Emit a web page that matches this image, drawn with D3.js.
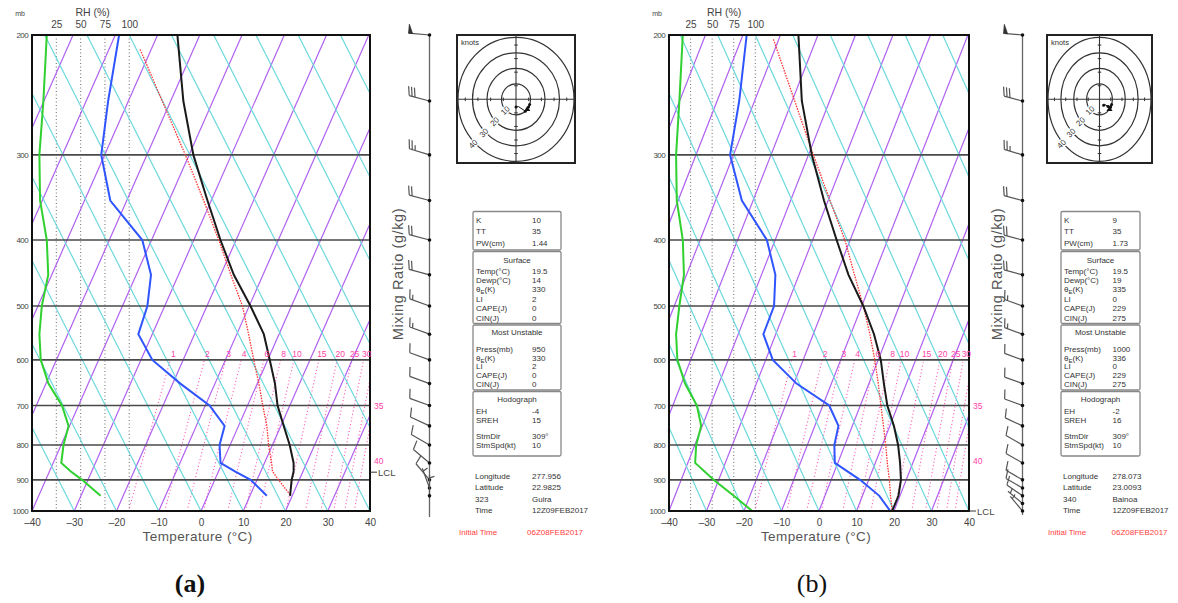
<!DOCTYPE html>
<html>
<head>
<meta charset="utf-8">
<script src="https://cdn.jsdelivr.net/npm/d3@7/dist/d3.min.js"></script>
<style>
  body { margin: 0; background: #fff; }
  svg { display: block; }
</style>
</head>
<body>
<div id="chart-area"></div>
<script>
// axes / reference lines
var pressTicks = [200, 300, 400, 500, 600, 700, 800, 900, 1000];
var tempTicks = [-40, -30, -20, -10, 0, 10, 20, 30, 40];
var rhTicks = [25, 50, 75, 100];
var mixRatios = [1, 2, 3, 4, 6, 8, 10, 15, 20, 25, 30, 35, 40];
var mixEdge = [35, 40];
var mixEdgePress = [700, 845];
var hodoRings = [10, 20, 30, 40];

// (a) Guira
var levelsA = [200, 250, 300, 350, 400, 450, 500, 550, 600, 650, 700, 750, 800, 850, 875, 900, 950];
var tempA = [-55.3, -47.0, -39.0, -30.9, -23.7, -16.9, -9.7, -3.6, 0.5, 4.2, 7.1, 10.7, 14.1, 16.9, 17.8, 18.2, 19.5];
var dewA = [-69.1, -64.8, -60.8, -53.9, -42.2, -36.5, -34.1, -33.3, -27.3, -18.2, -9.0, -3.3, -2.5, -0.4, 4.0, 8.5, 14.0];
var rhA = [15.2, 11.7, 7.6, 8.3, 15.2, 16.7, 10.1, 7.6, 9.0, 16.9, 30.8, 37.6, 32.4, 30.1, 40.0, 51.5, 70.5];
var parcelLevelsA = [210, 300, 350, 400, 450, 500, 550, 600, 650, 700, 750, 800, 850, 875, 900, 950];
var parcelA = [-62.6, -40.9, -31.8, -24.1, -17.6, -11.6, -7.2, -3.3, 0.4, 3.6, 6.7, 9.1, 11.7, 12.8, 15.1, 19.7];
var windLevelsA = [200, 250, 300, 350, 400, 450, 500, 550, 600, 650, 700, 750, 800, 850, 900, 925, 950];
var windDirA = [275, 285, 287, 285, 285, 285, 290, 290, 290, 290, 290, 295, 300, 310, 320, 340, 360];
var windSpdA = [50, 30, 25, 20, 20, 20, 15, 15, 10, 10, 10, 10, 10, 10, 10, 5, 5];
var lclA = 877;

// (b) Bainoa
var levelsB = [200, 250, 300, 350, 400, 450, 500, 550, 600, 650, 700, 750, 800, 850, 900, 950, 1000];
var tempB = [-55.2, -47.4, -39.1, -31.1, -23.6, -16.8, -9.6, -3.8, 0.7, 4.0, 7.2, 11.1, 14.2, 16.6, 18.6, 19.6, 19.5];
var dewB = [-69.0, -64.1, -60.9, -53.0, -42.2, -36.3, -33.4, -33.3, -28.1, -19.3, -8.3, -3.7, -2.8, -0.8, 7.7, 14.5, 19.0];
var rhB = [16, 12, 8.2, 9, 16, 17.3, 12, 8.2, 9.7, 18.6, 32.3, 37.3, 31.5, 30.3, 51.7, 75, 96.4];
var parcelLevelsB = [203, 250, 300, 350, 400, 450, 500, 550, 600, 650, 700, 750, 800, 850, 900, 950, 1000];
var parcelB = [-61.4, -49.3, -38.7, -29.5, -21.4, -15.2, -9.6, -4.9, -0.9, 2.5, 5.5, 8.3, 10.9, 13.2, 15.5, 17.5, 19.5];
var windLevelsB = [200, 250, 300, 350, 400, 450, 500, 550, 600, 650, 700, 750, 800, 850, 900, 925, 950, 975, 1000];
var windDirB = [275, 285, 287, 285, 285, 285, 290, 290, 290, 290, 290, 295, 300, 300, 300, 300, 305, 310, 320];
var windSpdB = [50, 30, 25, 20, 20, 20, 15, 15, 10, 10, 10, 10, 10, 10, 10, 8, 8, 5, 5];
var lclB = 1000;

// text tables
var indexLabels = ["K", "TT", "PW(cm)"];
var surfLabels = ["Temp(°C)", "Dewp(°C)", "θE(K)", "LI", "CAPE(J)", "CIN(J)"];
var muLabels = ["Press(mb)", "θE(K)", "LI", "CAPE(J)", "CIN(J)"];
var hodoLabels = ["EH", "SREH", "StmDir", "StmSpd(kt)"];
var indexA = ["10", "35", "1.44"];
var surfA = ["19.5", "14", "330", "2", "0", "0"];
var muA = ["950", "330", "2", "0", "0"];
var hodoA = ["-4", "15", "309°", "10"];
var stationA = [["Longitude", "277.956"], ["Latitude", "22.9825"], ["323", "Guira"], ["Time", "12Z09FEB2017"]];
var indexB = ["9", "35", "1.73"];
var surfB = ["19.5", "19", "335", "0", "229", "275"];
var muB = ["1000", "336", "0", "229", "275"];
var hodoB = ["-2", "16", "309°", "10"];
var stationB = [["Longitude", "278.073"], ["Latitude", "23.0093"], ["340", "Bainoa"], ["Time", "12Z09FEB2017"]];
var initTime = "06Z08FEB2017";
var stormDir = 309, stormSpd = 10;

var SKEW = 30.89;      // isotherm lean, degC per ln(p)
var DRY_LEAN = 57;     // cyan guide lean over the full height, degC
var TOP = 35, BOT = 511;
var FONT = "'Liberation Sans', Arial, sans-serif";

var svg = d3.select("#chart-area").append("svg")
  .attr("width", 1178).attr("height", 603)
  .style("background", "#fff");

function zip(ps, vs) { return ps.map((p, i) => [p, vs[i]]); }

function mixT(w, p) {
  var e = w * p / (622 + w);
  var l = Math.log(e / 6.112);
  return 243.5 * l / (17.67 - l);
}

function drawSkew(cfg) {
  var x = d3.scaleLinear().domain([-40, 40]).range([cfg.left, cfg.left + cfg.width]);
  var y = d3.scaleLog().domain([200, 1000]).range([TOP, BOT]);
  var rh = d3.scaleLinear().domain([0, 100]).range([cfg.left, cfg.left + cfg.width * 0.2877]);
  var sx = (t, p) => x(t + SKEW * Math.log(1000 / p));
  var line = d3.line().x(d => sx(d[1], d[0])).y(d => y(d[0]));
  var skewLine = d3.line().x(d => x(d[1])).y(d => y(d[0]));

  svg.append("clipPath").attr("id", "clip" + cfg.id)
    .append("rect").attr("x", cfg.left).attr("y", TOP)
    .attr("width", cfg.width).attr("height", BOT - TOP);
  var g = svg.append("g").attr("clip-path", "url(#clip" + cfg.id + ")");

  // RH guide lines
  g.selectAll(".rhl").data(rhTicks).enter().append("line")
    .attr("x1", d => rh(d)).attr("x2", d => rh(d))
    .attr("y1", TOP).attr("y2", BOT)
    .attr("stroke", "#777").attr("stroke-width", 1.1).attr("stroke-dasharray", "1,2.5");

  // mixing ratio lines
  var mixP = d3.range(1000, 595, -10);
  g.selectAll(".mix").data(mixRatios).enter().append("path")
    .attr("d", w => line(mixP.map(p => [p, mixT(w, p)])))
    .attr("fill", "none").attr("stroke", "#ff4fb0").attr("stroke-width", 1.1)
    .attr("stroke-dasharray", "1,2.5");

  // isotherms
  g.selectAll(".iso").data(d3.range(-180, 50, 10)).enter().append("path")
    .attr("d", t => line([[1000, t], [200, t]]))
    .attr("fill", "none").attr("stroke", "#b060f0").attr("stroke-width", 1.2);

  // adiabat guides (straight in this plot)
  g.selectAll(".dry").data(d3.range(-40, 110, 10)).enter().append("path")
    .attr("d", t => skewLine([[1000, t], [200, t - DRY_LEAN]]))
    .attr("fill", "none").attr("stroke", "#6cd8dc").attr("stroke-width", 1.2);

  // isobars
  g.selectAll(".isobar").data(pressTicks.slice(1, -1)).enter().append("line")
    .attr("x1", cfg.left).attr("x2", cfg.left + cfg.width)
    .attr("y1", d => y(d)).attr("y2", d => y(d))
    .attr("stroke", "#4a4a4a").attr("stroke-width", 1.6);

  // profiles
  g.append("path").attr("d", line(zip(cfg.parcelLevels, cfg.parcel)))
    .attr("fill", "none").attr("stroke", "#ff3030").attr("stroke-width", 1.3)
    .attr("stroke-dasharray", "1.5,1.2");
  g.append("path").attr("d", line(zip(cfg.levels, cfg.dew)))
    .attr("fill", "none").attr("stroke", "#2f55ff").attr("stroke-width", 2);
  g.append("path").attr("d", line(zip(cfg.levels, cfg.temp)))
    .attr("fill", "none").attr("stroke", "#1a1a1a").attr("stroke-width", 2);
  g.append("path")
    .attr("d", d3.line().x(d => rh(d[1])).y(d => y(d[0]))(zip(cfg.levels, cfg.rh)))
    .attr("fill", "none").attr("stroke", "#2fd02f").attr("stroke-width", 2);

  // frame
  svg.append("rect").attr("x", cfg.left).attr("y", TOP)
    .attr("width", cfg.width).attr("height", BOT - TOP)
    .attr("fill", "none").attr("stroke", "#111").attr("stroke-width", 2);

  // mixing ratio labels
  svg.selectAll(".mixlab" + cfg.id).data(mixRatios.filter(w => w <= 30)).enter().append("text")
    .attr("x", w => Math.min(sx(mixT(w, 600), 600) + 3, cfg.left + cfg.width + 1))
    .attr("y", y(600) - 3)
    .attr("text-anchor", "middle").attr("font-family", FONT).attr("font-size", 8.5)
    .attr("fill", "#ff3fa8").text(d => d);
  svg.selectAll(".mixedge" + cfg.id).data(mixEdge).enter().append("text")
    .attr("x", cfg.left + cfg.width + 4)
    .attr("y", (w, i) => y(mixEdgePress[i]) + 3)
    .attr("font-family", FONT).attr("font-size", 8.5)
    .attr("fill", "#ff3fa8").text(d => d);

  // axes
  var axB = svg.append("g").attr("transform", "translate(0," + (BOT + 12) + ")")
    .call(d3.axisBottom(x).tickValues(tempTicks).tickSize(0).tickFormat(d => d < 0 ? "–" + (-d) : d));
  var axL = svg.append("g").attr("transform", "translate(" + (cfg.left - 1) + ",0)")
    .call(d3.axisLeft(y).tickValues(pressTicks).tickSize(0).tickFormat(d3.format("d")));
  var axT = svg.append("g").attr("transform", "translate(0," + (TOP - 4) + ")")
    .call(d3.axisTop(rh).tickValues(rhTicks).tickSize(0));
  [axB, axL, axT].forEach(a => {
    a.select(".domain").remove();
    a.selectAll("text").attr("font-family", FONT).attr("fill", "#444");
  });
  axB.selectAll("text").attr("font-size", 10).attr("dy", 0);
  axL.selectAll("text").attr("font-size", 8).attr("dx", 0).attr("dy", "0.32em")
    .attr("letter-spacing", -0.6);
  axT.selectAll("text").attr("font-size", 10).attr("dy", 0);

  svg.append("text").attr("x", cfg.left + cfg.width * 0.49).attr("y", BOT + 30)
    .attr("text-anchor", "middle").attr("font-family", FONT).attr("font-size", 13.5)
    .attr("letter-spacing", 0.4).attr("fill", "#555").text("Temperature (°C)");
  svg.append("text").attr("x", rh(50) + 12).attr("y", 16)
    .attr("text-anchor", "middle").attr("font-family", FONT).attr("font-size", 10.5)
    .attr("fill", "#444").text("RH (%)");
  svg.append("text").attr("x", cfg.left - 12).attr("y", 16)
    .attr("text-anchor", "middle").attr("font-family", FONT).attr("font-size", 7)
    .attr("fill", "#444").text("mb");

  // LCL
  svg.append("line").attr("x1", cfg.left + cfg.width).attr("x2", cfg.left + cfg.width + 7)
    .attr("y1", y(cfg.lcl)).attr("y2", y(cfg.lcl)).attr("stroke", "#333").attr("stroke-width", 1);
  svg.append("text").attr("x", cfg.left + cfg.width + 8).attr("y", y(cfg.lcl) + 3.5)
    .attr("font-family", FONT).attr("font-size", 9.5).attr("fill", "#444").text("LCL");

  // mixing ratio axis title
  svg.append("text")
    .attr("transform", "translate(" + (cfg.left + cfg.width + 33) + ",274) rotate(-90)")
    .attr("text-anchor", "middle").attr("font-family", FONT).attr("font-size", 14.5)
    .attr("letter-spacing", 0.6).attr("fill", "#555").text("Mixing Ratio (g/kg)");

  return y;
}

function barb(g, x0, y0, dir, spd, L) {
  var a = dir * Math.PI / 180;
  var dx = Math.sin(a), dy = -Math.cos(a);
  var px = -dy, py = dx;
  var tx = x0 + dx * L, ty = y0 + dy * L;
  var path = "M" + x0 + "," + y0 + "L" + tx + "," + ty;
  var fl = 9, pos = 0, s = Math.round(spd / 5) * 5;
  var flags = Math.floor(s / 50); s -= flags * 50;
  var full = Math.floor(s / 10); s -= full * 10;
  var half = s >= 5;
  var tris = "";
  for (var i = 0; i < flags; i++) {
    var ax = tx - dx * pos, ay = ty - dy * pos;
    var bx = tx - dx * (pos + 4), by = ty - dy * (pos + 4);
    tris += "M" + ax + "," + ay + "L" + (ax + px * fl) + "," + (ay + py * fl) + "L" + bx + "," + by + "Z";
    pos += 5;
  }
  for (var j = 0; j < full; j++) {
    var fx = tx - dx * pos, fy = ty - dy * pos;
    path += "M" + fx + "," + fy + "L" + (fx + px * fl + dx * 3) + "," + (fy + py * fl + dy * 3);
    pos += 3;
  }
  if (half) {
    if (full === 0 && flags === 0) pos += 3;
    var hx = tx - dx * pos, hy = ty - dy * pos;
    path += "M" + hx + "," + hy + "L" + (hx + px * fl * 0.55 + dx * 1.5) + "," + (hy + py * fl * 0.55 + dy * 1.5);
  }
  g.append("path").attr("d", path).attr("fill", "none").attr("stroke", "#555").attr("stroke-width", 1.2);
  if (tris) g.append("path").attr("d", tris).attr("fill", "#333").attr("stroke", "#333").attr("stroke-width", 0.8);
}

function drawWinds(y, cx, yEnd, L, levels, dirs, spds) {
  var g = svg.append("g");
  g.append("line").attr("x1", cx).attr("x2", cx).attr("y1", TOP).attr("y2", yEnd)
    .attr("stroke", "#666").attr("stroke-width", 1.3);
  levels.forEach((p, i) => {
    barb(g, cx, y(p), dirs[i], spds[i], L);
    g.append("circle").attr("cx", cx).attr("cy", y(p)).attr("r", 1.8).attr("fill", "#111");
  });
}

function drawHodo(left, width, levels, dirs, spds) {
  var top = 35, height = 128;
  var cx = left + width / 2, cy = 99.3;
  var kx = d3.scaleLinear().domain([-40, 40]).range([cx - width / 2 + 1, cx + width / 2 - 1]);
  var ky = d3.scaleLinear().domain([-40, 40]).range([cy + 62, cy - 62]);
  var g = svg.append("g");
  g.append("rect").attr("x", left).attr("y", top).attr("width", width).attr("height", height)
    .attr("fill", "none").attr("stroke", "#222").attr("stroke-width", 2);
  g.selectAll("ellipse").data(hodoRings).enter().append("ellipse")
    .attr("cx", cx).attr("cy", cy)
    .attr("rx", r => kx(r) - cx).attr("ry", r => cy - ky(r))
    .attr("fill", "none").attr("stroke", "#333").attr("stroke-width", 1.2);
  g.append("line").attr("x1", left).attr("x2", left + width).attr("y1", cy).attr("y2", cy)
    .attr("stroke", "#333").attr("stroke-width", 1.1);
  g.append("line").attr("x1", cx).attr("x2", cx).attr("y1", top).attr("y2", top + height)
    .attr("stroke", "#333").attr("stroke-width", 1.1);
  var tk = d3.range(-35, 40, 8.75).filter(v => Math.abs(v) > 1);
  g.selectAll(".tx").data(tk).enter().append("line")
    .attr("x1", v => kx(v)).attr("x2", v => kx(v)).attr("y1", cy - 1.8).attr("y2", cy + 1.8)
    .attr("stroke", "#333");
  g.selectAll(".ty").data(tk).enter().append("line")
    .attr("y1", v => ky(v)).attr("y2", v => ky(v)).attr("x1", cx - 1.8).attr("x2", cx + 1.8)
    .attr("stroke", "#333");
  g.selectAll(".rl").data(hodoRings).enter().append("text")
    .attr("transform", r => "translate(" + (cx - (kx(r) - cx) * 0.74) + "," + (cy + (cy - ky(r)) * 0.72) + ") rotate(-45)")
    .attr("text-anchor", "middle").attr("dy", "0.35em")
    .attr("font-family", FONT).attr("font-size", 8).attr("fill", "#333")
    .attr("stroke", "#fff").attr("stroke-width", 2.5).attr("paint-order", "stroke")
    .text(d => d);
  g.append("text").attr("x", left + 4).attr("y", top + 10)
    .attr("font-family", FONT).attr("font-size", 7.5).attr("fill", "#333").text("knots");
  // trace of the low-level winds
  var pts = levels.map((p, i) => {
    var a = dirs[i] * Math.PI / 180;
    return { p: p, u: -spds[i] * Math.sin(a), v: -spds[i] * Math.cos(a) };
  }).filter(d => d.p >= 700);
  g.append("path").attr("d", d3.line().x(d => kx(d.u)).y(d => ky(d.v))(pts))
    .attr("fill", "none").attr("stroke", "#111").attr("stroke-width", 1);
  g.selectAll(".hp").data(pts.filter((d, i) => i % 2 === 0)).enter().append("circle")
    .attr("cx", d => kx(d.u)).attr("cy", d => ky(d.v)).attr("r", 1.5).attr("fill", "#111");
  var sa = stormDir * Math.PI / 180;
  var smx = kx(-stormSpd * Math.sin(sa)), smy = ky(-stormSpd * Math.cos(sa));
  g.append("path").attr("d", "M" + smx + "," + (smy - 3) + "L" + (smx + 3) + "," + (smy + 2) + "L" + (smx - 3) + "," + (smy + 2) + "Z")
    .attr("fill", "#111");
}

function labelText(sel, s) {
  if (s.indexOf("θE") === 0) {
    sel.text("θ");
    sel.append("tspan").attr("font-size", 6).attr("dy", 2).text("E");
    sel.append("tspan").attr("dy", -2).text(s.slice(2));
  } else sel.text(s);
}

function drawInfo(left, right, valX, idx, surf, mu, hodo, station, initLeft, initVal) {
  var g = svg.append("g").attr("font-family", FONT).attr("font-size", 8).attr("fill", "#333");
  var boxes = [[211.5, 250], [251.5, 323.5], [325, 390], [391.5, 456]];
  g.selectAll("rect").data(boxes).enter().append("rect")
    .attr("x", left).attr("y", d => d[0]).attr("width", right - left).attr("height", d => d[1] - d[0])
    .attr("rx", 1.5).attr("fill", "none").attr("stroke", "#888").attr("stroke-width", 1.3);
  function rows(labels, vals, y0, dy) {
    labels.forEach((l, i) => {
      labelText(g.append("text").attr("x", left + 3).attr("y", y0 + i * dy), l);
      g.append("text").attr("x", valX).attr("y", y0 + i * dy).text(vals[i]);
    });
  }
  rows(indexLabels, idx, 223, 11.3);
  [["Surface", 263], ["Most Unstable", 334.5], ["Hodograph", 402]].forEach(t => {
    g.append("text").attr("x", (left + right) / 2).attr("y", t[1]).attr("text-anchor", "middle").text(t[0]);
  });
  rows(surfLabels, surf, 273.5, 9.4);
  rows(muLabels, mu, 352, 8.7);
  rows(hodoLabels.slice(0, 2), hodo.slice(0, 2), 414, 9);
  rows(hodoLabels.slice(2), hodo.slice(2), 439, 9);
  station.forEach((r, i) => {
    g.append("text").attr("x", left + 2).attr("y", 479 + i * 11.3).text(r[0]);
    g.append("text").attr("x", valX).attr("y", 479 + i * 11.3).text(r[1]);
  });
  g.append("text").attr("x", initLeft).attr("y", 535).attr("fill", "#ff4040").text("Initial Time");
  g.append("text").attr("x", initVal).attr("y", 535).attr("fill", "#ff4040").text(initTime);
}

var yA = drawSkew({ id: "a", left: 32, width: 338, levels: levelsA, temp: tempA, dew: dewA, rh: rhA,
  parcelLevels: parcelLevelsA, parcel: parcelA, lcl: lclA });
var yB = drawSkew({ id: "b", left: 669, width: 300, levels: levelsB, temp: tempB, dew: dewB, rh: rhB,
  parcelLevels: parcelLevelsB, parcel: parcelB, lcl: lclB });

drawWinds(yA, 429.5, 517, 21, windLevelsA, windDirA, windSpdA);
drawWinds(yB, 1022.5, 515, 19, windLevelsB, windDirB, windSpdB);

drawHodo(457, 118, windLevelsA, windDirA, windSpdA);
drawHodo(1047, 105, windLevelsB, windDirB, windSpdB);

drawInfo(473, 561, 532, indexA, surfA, muA, hodoA, stationA, 459, 527);
drawInfo(1061, 1140, 1112.5, indexB, surfB, muB, hodoB, stationB, 1048, 1111.5);

svg.append("text").attr("x", 190).attr("y", 592).attr("text-anchor", "middle")
  .attr("font-family", "'Liberation Serif', 'Times New Roman', serif").attr("font-weight", "bold")
  .attr("font-size", 26).attr("fill", "#111").text("(a)");
svg.append("text").attr("x", 812).attr("y", 592).attr("text-anchor", "middle")
  .attr("font-family", "'Liberation Serif', 'Times New Roman', serif")
  .attr("font-size", 26).attr("fill", "#111").text("(b)");
</script>
</body>
</html>
